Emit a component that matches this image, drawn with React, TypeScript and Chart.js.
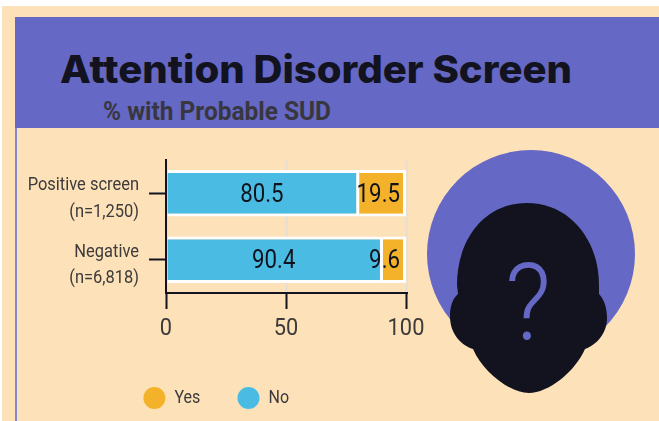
import React, { useEffect, useRef } from "react";
import { Chart, registerables } from "chart.js";

Chart.register(...registerables);

const categories = [["Positive screen", "(n=1,250)"], ["Negative", "(n=6,818)"]];
const noValues = [80.5, 90.4];
const yesValues = [19.5, 9.6];
const xTicks = [0, 50, 100];
const title = "Attention Disorder Screen";
const subtitle = "% with Probable SUD";

const FONT = "Roboto, sans-serif";
const NARROW_RATIO = 0.89;
const DARK = "#12131f";
const TEXT = "#3c3a3a";
const PURPLE = "#6568c4";
const CREAM = "#fde1b9";

// Roboto Condensed is not installed: narrow every canvas text horizontally around its anchor.
const condense = {
  id: "condense",
  beforeDraw(chart: any) {
    const ctx = chart.ctx;
    if (ctx.__condensed) return;
    ctx.__condensed = true;
    const orig = ctx.fillText;
    ctx.fillText = function (t: string, x: number, y: number) {
      ctx.save();
      ctx.translate(x, y);
      ctx.scale(NARROW_RATIO, 1);
      orig.call(ctx, t, 0, 0);
      ctx.restore();
    };
  },
};

const valueLabels = {
  id: "valueLabels",
  afterDatasetsDraw(chart: any) {
    const { ctx, scales } = chart;
    const limit = scales.x.getPixelForValue(100) - 6;
    ctx.save();
    ctx.font = `25px ${FONT}`;
    ctx.fillStyle = "#11131c";
    ctx.textAlign = "center";
    ctx.textBaseline = "middle";
    chart.data.datasets.forEach((ds: any, di: number) => {
      chart.getDatasetMeta(di).data.forEach((bar: any, i: number) => {
        const text = ds.data[i].toFixed(1);
        const w = ctx.measureText(text).width * NARROW_RATIO;
        const p = bar.getCenterPoint();
        const x = Math.min(p.x - 1.5, limit - w / 2);
        ctx.fillText(text, x, p.y + 2);
      });
    });
    ctx.restore();
  },
};

export default function App() {
  const ref = useRef<HTMLCanvasElement>(null);
  useEffect(() => {
    const chart = new Chart(ref.current!, {
      type: "bar",
      data: {
        labels: categories as any,
        datasets: [
          { label: "No", data: noValues, backgroundColor: "#4abce4", borderColor: "#ffffff", borderWidth: 3, borderSkipped: "start" },
          { label: "Yes", data: yesValues, backgroundColor: "#f4b22a", borderColor: "#ffffff", borderWidth: 3, borderSkipped: "start" },
        ],
      },
      options: {
        indexAxis: "y",
        responsive: false,
        animation: false,
        layout: { padding: { top: 160, right: 30, left: 29, bottom: 0 } },
        datasets: { bar: { categoryPercentage: 1, barPercentage: 0.7 } },
        plugins: {
          title: { display: false },
          tooltip: { enabled: false },
          legend: {
            position: "bottom",
            labels: {
              usePointStyle: true,
              pointStyle: "circle",
              boxHeight: 15.6,
              pointStyleWidth: 22,
              padding: 34,
              color: TEXT,
              font: { family: FONT, size: 18 },
              generateLabels: (c: any) =>
                c.data.datasets
                  .map((d: any, i: number) => ({
                    text: d.label,
                    fillStyle: d.backgroundColor,
                    strokeStyle: "transparent",
                    lineWidth: 0,
                    pointStyle: "circle",
                    fontColor: TEXT,
                    datasetIndex: i,
                  }))
                  .reverse(),
            },
          },
        },
        scales: {
          x: {
            stacked: true,
            min: 0,
            max: 100,
            afterBuildTicks: (s: any) => { s.ticks = xTicks.map((value) => ({ value })); },
            afterFit: (s: any) => { s.height = 62; },
            grid: { color: "#e8e0d2", lineWidth: 3, tickColor: DARK, tickWidth: 2, tickLength: 16 },
            border: { color: DARK, width: 2 },
            ticks: { color: TEXT, padding: 5, maxRotation: 0, font: { family: FONT, size: 24.5 } },
          },
          y: {
            stacked: true,
            afterFit: (s: any) => { s.width = 137; },
            grid: { offset: false, drawOnChartArea: false, tickColor: DARK, tickWidth: 2, tickLength: 17 },
            border: { color: DARK, width: 2, z: 2 },
            ticks: { color: TEXT, padding: 10, labelOffset: 5.5, font: { family: FONT, size: 18.5, lineHeight: 1.42 } },
          },
        },
      } as any,
      plugins: [condense, valueLabels],
    });
    return () => chart.destroy();
  }, []);

  return (
    <div style={{ position: "absolute", left: 0, top: 0, width: 659, height: 421, overflow: "hidden", background: "#fff" }}>
      <svg width={659} height={421} style={{ position: "absolute", left: 0, top: 0 }}>
        <rect x={2} y={6} width={657} height={415} fill={CREAM} />
        <rect x={15} y={17} width={644} height={111} fill={PURPLE} />
        <rect x={15} y={128} width={2} height={293} fill="#8486d0" />
        <text x={60} y={83} textLength={512} lengthAdjust="spacingAndGlyphs" fontFamily="Inter, sans-serif" fontWeight={800} fontSize={38} fill={DARK}>{title}</text>
        <text x={103} y={120} textLength={228} lengthAdjust="spacingAndGlyphs" fontFamily="Roboto, sans-serif" fontWeight={700} fontSize={25} fill="#38373f">{subtitle}</text>
        <circle cx={531} cy={254} r={104} fill={PURPLE} />
        <path
          fill={DARK}
          d="M527 203 C570 203 599 240 599 285 L599 294 C603 298 607 306 607 318 C607 334 596 345 585 349 C575 372 548 393 529 393 C510 393 483 372 473 349 C461 345 450 334 450 316 C450 306 453 298 458 294 L457 285 C457 240 484 203 527 203 Z"
        />
        <text x={528} y={340} textAnchor="middle" textLength={46} lengthAdjust="spacingAndGlyphs" fontFamily="Roboto, sans-serif" fontWeight={300} fontSize={107} fill={PURPLE}>?</text>
      </svg>
      <canvas ref={ref} width={436} height={417} style={{ position: "absolute", left: 0, top: 0, width: 436, height: 417 }} />
    </div>
  );
}
